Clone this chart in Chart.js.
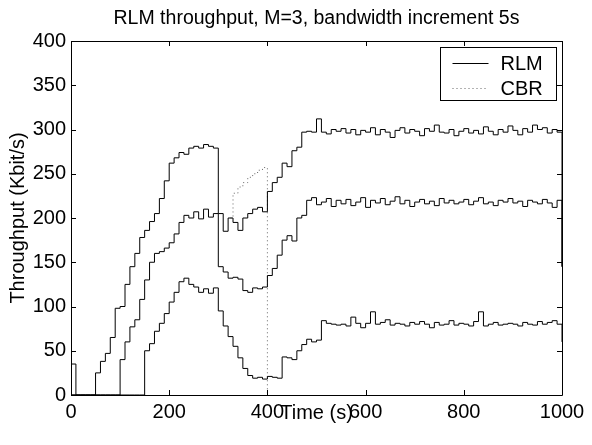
<!DOCTYPE html>
<html lang="en">
<head>
<meta charset="UTF-8">
<title>RLM throughput</title>
<script src="https://cdn.jsdelivr.net/npm/chart.js"></script>
<style>
  html, body { margin: 0; padding: 0; background: #fff; }
</style>
</head>
<body>
<canvas id="rlmChart" width="592" height="445"></canvas>
<script>
// time axis, one sample every 10 s
const times = [];
for (let t = 0; t <= 1000; t += 10) times.push(t);

// RLM layer 1 (top curve)
const rlm1 = [
  35, 0, 0, 0, 0, 25, 38, 47, 65, 98,
  100, 125, 145, 160, 178, 186, 196, 205, 222, 242,
  262, 268, 274, 272, 279, 281, 279, 283, 281, 279,
  205, 185, 200, 195, 186, 200, 205, 210, 212, 207,
  230, 240, 246, 262, 258, 276, 280, 297, 298, 297,
  312, 297, 295, 300, 298, 301, 296, 300, 294, 299,
  297, 302, 294, 300, 297, 291, 299, 302, 296, 300,
  298, 293, 301, 298, 305, 297, 296, 300, 293, 298,
  301, 296, 299, 295, 303, 298, 294, 300, 297, 304,
  299, 294, 301, 297, 305, 300, 302, 296, 300, 297,
  145
];

// RLM layer 2 (middle curve)
const rlm2 = [
  0, 0, 0, 0, 0, 0, 0, 0, 0, 0,
  40, 60, 77, 85, 108, 130, 150, 160, 162, 166,
  172, 182, 195, 203, 200, 207, 199, 210, 201, 205,
  145, 139, 132, 133, 131, 118, 116, 121, 120, 122,
  135, 143, 158, 175, 180, 174, 200, 203, 220, 223,
  215, 218, 222, 213, 220, 216, 221, 214, 218, 223,
  212, 220, 217, 222, 215, 219, 224, 216, 220, 213,
  218, 221, 216, 219, 214, 222, 217, 220, 216, 218,
  221, 215, 219, 223, 216, 218, 214, 220, 218, 222,
  217, 219, 213, 220, 218, 216, 221, 217, 212, 220,
  145
];

// RLM layer 3 (bottom curve)
const rlm3 = [
  0, 0, 0, 0, 0, 0, 0, 0, 0, 0,
  0, 0, 0, 0, 0, 50, 58, 72, 81, 92,
  105, 116, 128, 132, 125, 122, 116, 120, 115, 121,
  95, 78, 66, 55, 42, 30, 22, 19, 20, 18,
  21, 20, 19, 43, 42, 40, 50, 57, 63, 60,
  62, 84, 81, 80, 79, 80, 78, 88, 81, 76,
  81, 94, 80, 82, 85, 79, 81, 80, 78, 82,
  80, 83, 80, 76, 82, 79, 80, 84, 79, 81,
  80, 78, 83, 94, 78, 80, 82, 79, 80, 81,
  80, 78, 82, 80, 79, 83, 80, 82, 84, 80,
  60
];

// CBR source, only active for a short window
const cbrTimes = [325, 330, 340, 350, 360, 370, 380, 390, 400];
const cbrValues = [200, 228, 235, 240, 246, 250, 254, 257, 0];

const xTicks = [0, 200, 400, 600, 800, 1000];
const yTicks = [0, 50, 100, 150, 200, 250, 300, 350, 400];

const titleText = 'RLM throughput, M=3, bandwidth increment 5s';
const FONT = 'Liberation Sans, Arial, Helvetica, sans-serif';

function toPoints(xs, ys) {
  return xs.map((x, i) => ({ x: x, y: ys[i] }));
}

// MATLAB style frame: full box plus inward tick marks, title over the axes
const boxPlugin = {
  id: 'matlabBox',
  afterDatasetsDraw(chart) {
    const { ctx, chartArea: a, scales } = chart;
    ctx.save();
    ctx.strokeStyle = '#000';
    ctx.lineWidth = 1;
    ctx.beginPath();
    ctx.rect(Math.round(a.left) + 0.5, Math.round(a.top) + 0.5,
             Math.round(a.right - a.left), Math.round(a.bottom - a.top));
    const len = 5;
    xTicks.forEach(v => {
      const px = Math.round(scales.x.getPixelForValue(v)) + 0.5;
      ctx.moveTo(px, a.bottom); ctx.lineTo(px, a.bottom - len);
      ctx.moveTo(px, a.top); ctx.lineTo(px, a.top + len);
    });
    yTicks.forEach(v => {
      const py = Math.round(scales.y.getPixelForValue(v)) + 0.5;
      ctx.moveTo(a.left, py); ctx.lineTo(a.left + len, py);
      ctx.moveTo(a.right, py); ctx.lineTo(a.right - len, py);
    });
    ctx.stroke();

    ctx.fillStyle = '#000';
    ctx.font = '19.5px ' + FONT;
    ctx.textAlign = 'center';
    ctx.textBaseline = 'middle';
    ctx.fillText(titleText, (a.left + a.right) / 2, a.top - 22);
    ctx.restore();
  }
};

// boxed legend in the upper right corner of the axes
const legendPlugin = {
  id: 'boxLegend',
  afterDraw(chart) {
    const { ctx, chartArea: a } = chart;
    const w = 116, h = 53;
    const x0 = Math.round(a.right - 6 - w) + 0.5;
    const y0 = Math.round(a.top + 6) + 0.5;
    ctx.save();
    ctx.fillStyle = '#fff';
    ctx.fillRect(x0, y0, w, h);
    ctx.strokeStyle = '#000';
    ctx.lineWidth = 1;
    ctx.strokeRect(x0, y0, w, h);
    const items = [
      { label: 'RLM', ds: chart.data.datasets[0] },
      { label: 'CBR', ds: chart.data.datasets[3] }
    ];
    ctx.font = '20px ' + FONT;
    ctx.textBaseline = 'middle';
    ctx.textAlign = 'left';
    items.forEach((it, i) => {
      const yy = Math.round(y0 + 15 + i * 25) + 0.5;
      ctx.beginPath();
      ctx.strokeStyle = it.ds.borderColor;
      ctx.setLineDash(it.ds.borderDash || []);
      ctx.moveTo(x0 + 12, yy);
      ctx.lineTo(x0 + 48, yy);
      ctx.stroke();
      ctx.setLineDash([]);
      ctx.fillStyle = '#000';
      ctx.fillText(it.label, x0 + 60, yy + 1);
    });
    ctx.restore();
  }
};

const lineStyle = {
  borderColor: '#000',
  borderWidth: 1,
  pointRadius: 0,
  stepped: true,
  fill: false
};

const ctx = document.getElementById('rlmChart').getContext('2d');
new Chart(ctx, {
  type: 'line',
  data: {
    datasets: [
      Object.assign({ label: 'RLM', data: toPoints(times, rlm1) }, lineStyle),
      Object.assign({ label: 'RLM 2', data: toPoints(times, rlm2) }, lineStyle),
      Object.assign({ label: 'RLM 3', data: toPoints(times, rlm3) }, lineStyle),
      {
        label: 'CBR',
        data: toPoints(cbrTimes, cbrValues),
        borderColor: '#666',
        borderWidth: 1,
        borderDash: [1, 3],
        pointRadius: 0,
        stepped: true,
        fill: false
      }
    ]
  },
  options: {
    responsive: false,
    animation: false,
    layout: { padding: { left: 0, right: 30, top: 41, bottom: 0 } },
    plugins: {
      legend: { display: false },
      tooltip: { enabled: false },
      title: { display: false }
    },
    scales: {
      x: {
        type: 'linear',
        min: 0,
        max: 1000,
        afterFit(scale) { scale.height = 50; },
        afterBuildTicks(scale) { scale.ticks = xTicks.map(v => ({ value: v })); },
        grid: { display: false, drawTicks: false },
        border: { display: false },
        ticks: {
          color: '#000',
          padding: 5,
          maxRotation: 0,
          autoSkip: false,
          font: { family: FONT, size: 20 },
          callback: v => String(v)
        },
        title: {
          display: true,
          text: 'Time (s)',
          color: '#000',
          font: { family: FONT, size: 20, lineHeight: 1.2 },
          padding: { top: 0, bottom: 20 }
        }
      },
      y: {
        min: 0,
        max: 400,
        afterFit(scale) { scale.width = 71; },
        afterBuildTicks(scale) { scale.ticks = yTicks.map(v => ({ value: v })); },
        grid: { display: false, drawTicks: false },
        border: { display: false },
        ticks: {
          color: '#000',
          padding: 5,
          autoSkip: false,
          font: { family: FONT, size: 20 },
          callback: v => String(v)
        },
        title: {
          display: true,
          text: 'Throughput (Kbit/s)',
          color: '#000',
          font: { family: FONT, size: 20, lineHeight: 1.2 },
          padding: { top: 6, bottom: 0 }
        }
      }
    }
  },
  plugins: [boxPlugin, legendPlugin]
});
</script>
</body>
</html>
